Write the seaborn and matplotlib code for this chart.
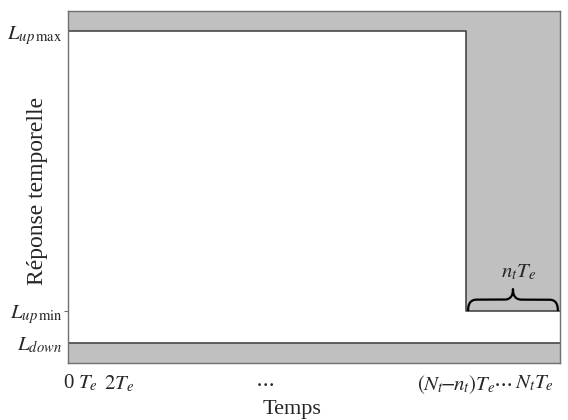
import matplotlib
matplotlib.use("Agg")
import matplotlib.pyplot as plt
import matplotlib.transforms as mtransforms
import numpy as np
import pandas as pd
import seaborn as sns

# ---- data (normalised units) ----
Te = 1.0
Nt = 34.0
nt = 6.5
y_bottom = 0.0
L_down = 1.15
L_up_min = 2.95
L_up_max = 18.85
y_top = 20.0

x_tick_pos = [0, Te, 2 * Te, (Nt - nt) * Te, Nt * Te]
x_tick_labels = ["0", "$T_e$", "$2T_e$", "$(N_t\\!\\!-\\!\\!n_t)T_e$", "$N_tT_e$"]
x_label_pos = [0.0, 1.35, 3.55, 26.8, 30.9]
x_label_ha = ["center", "center", "center", "center", "left"]
dots_pos = [13.6, 30.05]
y_tick_pos = [L_down, L_up_min, L_up_max]
y_tick_labels = ["$L_{down}$", "$L_{up\\,\\mathrm{min}}$", "$L_{up\\,\\mathrm{max}}$"]

upper = pd.DataFrame({"x": [0, Nt - nt, Nt - nt, Nt],
                      "y": [L_up_max, L_up_max, L_up_min, L_up_min]})
lower = pd.DataFrame({"x": [0, Nt], "y": [L_down, L_down]})

sns.set_theme(style="white")
plt.rcParams["font.family"] = ["Liberation Serif", "DejaVu Serif"]
plt.rcParams["mathtext.fontset"] = "stix"

fig = plt.figure(figsize=(5.68, 4.2), dpi=100)
ax = fig.add_axes([68 / 568, 1 - 363 / 420, 492 / 568, 352 / 420])

gray = "#c0c0c0"
ax.fill_between([0, Nt], L_up_max, y_top, color=gray, lw=0)
ax.fill_between([Nt - nt, Nt], L_up_min, y_top, color=gray, lw=0)
ax.fill_between([0, Nt], y_bottom, L_down, color=gray, lw=0)

sns.lineplot(data=upper, x="x", y="y", sort=False, estimator=None,
             color="#3a3a3a", lw=1.1, ax=ax)
sns.lineplot(data=lower, x="x", y="y", sort=False, estimator=None,
             color="#3a3a3a", lw=1.1, ax=ax)

ax.set_xlim(0, Nt)
ax.set_ylim(y_bottom, y_top)
for s in ax.spines.values():
    s.set_color("#707070")
    s.set_linewidth(1.0)

# x ticks (inward), labels as text
ax.set_xticks(x_tick_pos)
ax.set_xticklabels([])
ax.tick_params(axis="x", direction="in", length=5, color="#707070", width=0.8, bottom=True)
trans = mtransforms.blended_transform_factory(ax.transData, ax.transAxes)
for p, lab, ha in zip(x_label_pos, x_tick_labels, x_label_ha):
    ax.text(p, -0.03, lab, transform=trans, ha=ha, va="top", fontsize=15)
for p in dots_pos:
    ax.text(p, -0.03, "$\\cdots$", transform=trans, ha="center", va="top", fontsize=15)

# y ticks
ax.set_yticks(y_tick_pos)
ax.set_yticklabels(y_tick_labels, fontsize=15)
ax.tick_params(axis="y", direction="out", length=3, color="#707070", width=0.8, left=True, pad=1)
ticks = ax.yaxis.get_major_ticks()
ticks[0].tick1line.set_visible(False)
ticks[2].tick1line.set_visible(False)

ax.set_xlabel("Temps", fontsize=16)
ax.xaxis.set_label_coords(0.455, -0.105)
ax.set_ylabel("Réponse temporelle", fontsize=17)
ax.yaxis.set_label_coords(-0.04, 0.49)

# curly brace over the last n_t samples
x0, x1 = Nt - nt + 0.15, Nt - 0.15
yb = L_up_min + 0.05
h = 1.2
xm = (x0 + x1) / 2
t = np.linspace(0, 1, 60)
def qb(p0, p1, p2):
    return ((1 - t) ** 2)[:, None] * np.array(p0) + (2 * (1 - t) * t)[:, None] * np.array(p1) + (t ** 2)[:, None] * np.array(p2)
segs = [
    qb((x0, yb), (x0, yb + h / 2), (x0 + 0.6, yb + h / 2)),
    np.array([[x0 + 0.6, yb + h / 2], [xm - 0.6, yb + h / 2]]),
    qb((xm - 0.6, yb + h / 2), (xm, yb + h / 2), (xm, yb + h)),
    qb((xm, yb + h), (xm, yb + h / 2), (xm + 0.6, yb + h / 2)),
    np.array([[xm + 0.6, yb + h / 2], [x1 - 0.6, yb + h / 2]]),
    qb((x1 - 0.6, yb + h / 2), (x1, yb + h / 2), (x1, yb)),
]
pts = np.vstack(segs)
ax.plot(pts[:, 0], pts[:, 1], color="black", lw=1.6)
ax.text(xm + 0.4, yb + h + 0.4, "$n_tT_e$", ha="center", va="bottom", fontsize=15)

fig.savefig("out.png", dpi=100)
